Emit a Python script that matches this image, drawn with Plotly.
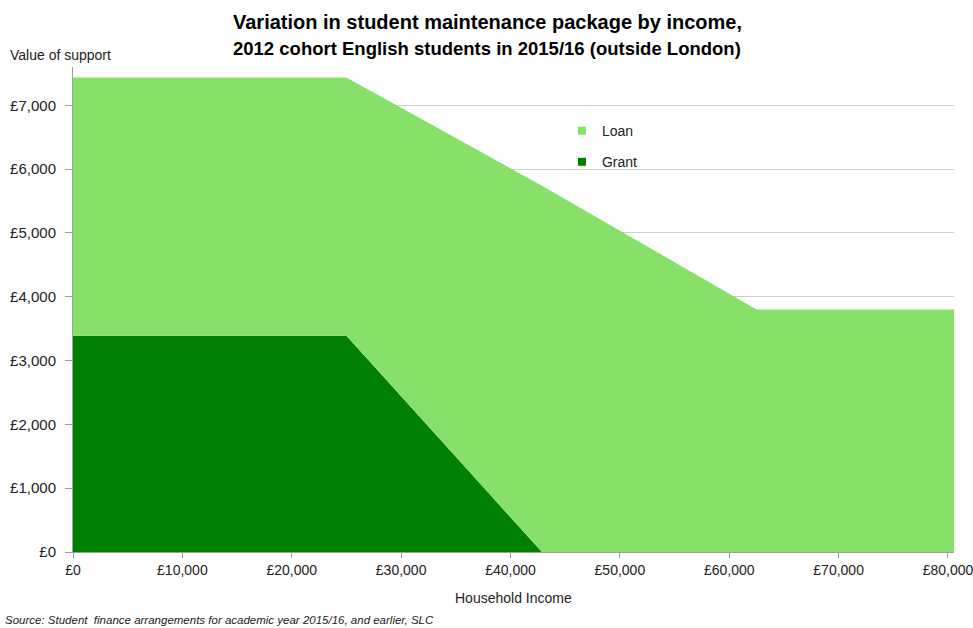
import plotly.graph_objects as go

# household income breakpoints (£) and support values at each (£)
income = [0, 25000, 42875, 62500, 80550]
grant = [3387, 3387, 0, 0, 0]
loan = [4047, 4047, 5740, 3800, 3800]

y_ticks = [0, 1000, 2000, 3000, 4000, 5000, 6000, 7000]
x_ticks = [0, 10000, 20000, 30000, 40000, 50000, 60000, 70000, 80000]

LOAN_COLOR = '#87E168'
GRANT_COLOR = '#008000'

fig = go.Figure()

fig.add_trace(go.Scatter(
    x=income, y=grant, name='Grant',
    stackgroup='one', mode='none',
    fillcolor=GRANT_COLOR, showlegend=False
))

fig.add_trace(go.Scatter(
    x=income, y=loan, name='Loan',
    stackgroup='one', mode='none',
    fillcolor=LOAN_COLOR, showlegend=False
))

# legend entries with small square keys
fig.add_trace(go.Scatter(
    x=[None], y=[None], name='Loan', mode='markers', legendgroup='a',
    marker=dict(symbol='square', size=8, color=LOAN_COLOR)
))
fig.add_trace(go.Scatter(
    x=[None], y=[None], name='Grant', mode='markers', legendgroup='b',
    marker=dict(symbol='square', size=8, color=GRANT_COLOR)
))

fig.update_layout(
    width=973, height=628,
    margin=dict(l=73, r=19, t=67, b=76),
    paper_bgcolor='white',
    plot_bgcolor='white',
    font=dict(family='Liberation Sans, Arial', size=14, color='#222'),
    showlegend=True,
    legend=dict(
        x=0.555, y=0.901, xanchor='left', yanchor='top',
        font=dict(size=14),
        itemwidth=30,
        tracegroupgap=10,
        bgcolor='rgba(0,0,0,0)'
    ),
    xaxis=dict(
        range=[0, 80550],
        automargin=False,
        tickvals=x_ticks,
        ticktext=['£{:,}'.format(v) for v in x_ticks],
        ticklabeloverflow='allow',
        showgrid=False,
        showline=True, linecolor='#a0a0a0', linewidth=1,
        ticks='outside', tickcolor='#a0a0a0', ticklen=5,
        tickfont=dict(size=14),
        zeroline=False
    ),
    yaxis=dict(
        range=[0, 7600],
        automargin=False,
        tickvals=y_ticks,
        ticktext=['£{:,}'.format(v) for v in y_ticks],
        showgrid=True, gridcolor='#d0d0d0', gridwidth=1,
        showline=True, linecolor='#a0a0a0', linewidth=1,
        ticks='outside', tickcolor='#a0a0a0', ticklen=7,
        ticklabelstandoff=6,
        tickfont=dict(size=15),
        zeroline=False
    ),
    annotations=[
        dict(text='<b>Variation in student maintenance package by income,</b>',
             xref='paper', yref='paper', x=0.47, y=1.0, yshift=45,
             xanchor='center', yanchor='middle', showarrow=False,
             font=dict(size=20, color='black')),
        dict(text='<b>2012 cohort English students in 2015/16 (outside London)</b>',
             xref='paper', yref='paper', x=0.47, y=1.0, yshift=19,
             xanchor='center', yanchor='middle', showarrow=False,
             font=dict(size=18.5, color='black')),
        dict(text='Value of support',
             xref='paper', yref='paper', x=-0.074, y=1.0, yshift=12,
             xanchor='left', yanchor='middle', showarrow=False,
             font=dict(size=14, color='#222')),
        dict(text='Household Income',
             xref='paper', yref='paper', x=0.5, y=0, yshift=-46,
             xanchor='center', yanchor='middle', showarrow=False,
             font=dict(size=14, color='#222')),
        dict(text='<i>Source: Student  finance arrangements for academic year 2015/16, and earlier, SLC</i>',
             xref='paper', yref='paper', x=-0.08, y=0, yshift=-68,
             xanchor='left', yanchor='middle', showarrow=False,
             font=dict(size=11.5, color='#222')),
    ]
)

# page body margin would otherwise offset the chart by 8px
fig.write_html("out.html", config={'displayModeBar': False},
               post_script="document.body.style.margin='0';")
